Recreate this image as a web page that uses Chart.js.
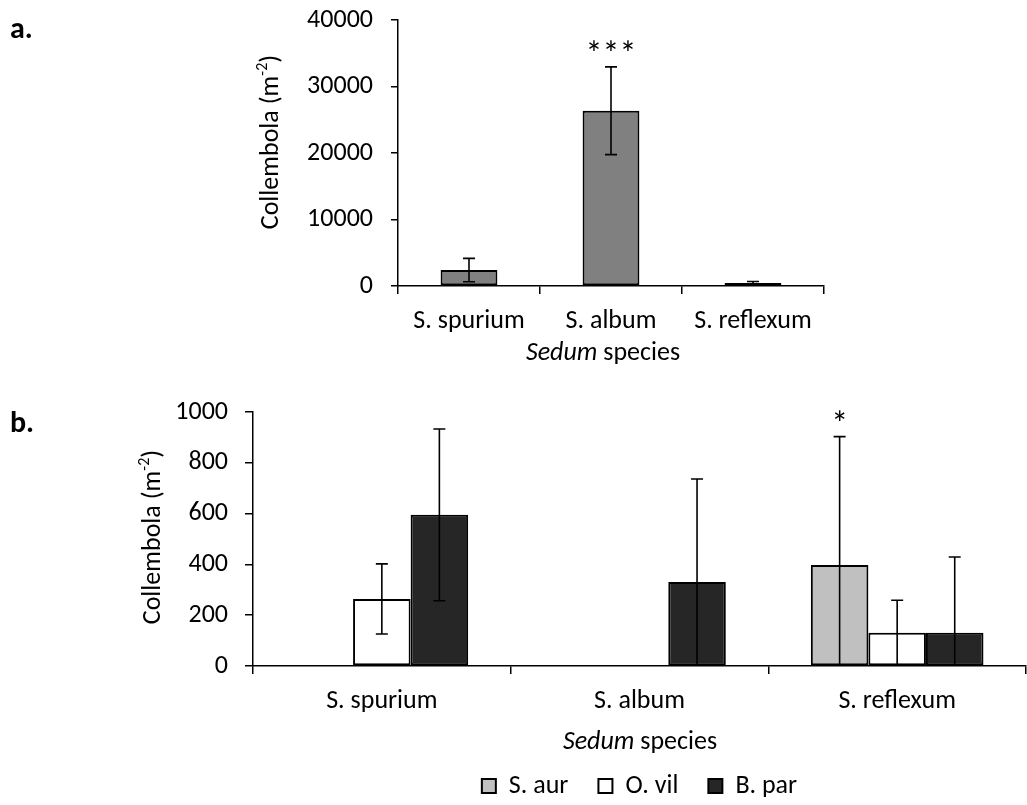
<!DOCTYPE html>
<html lang="en">
<head>
<meta charset="UTF-8" />
<title>Collembola density under Sedum species</title>
<script src="https://cdn.jsdelivr.net/npm/chart.js"></script>
<style>
  html, body { margin: 0; padding: 0; background: #fff; overflow: hidden; }
  .panel { position: absolute; left: 0; }
  #panelA { top: 0; }
  #panelB { top: 380px; }
</style>
</head>
<body>
<div class="panel" id="panelA"><canvas id="chartA" width="1027" height="380"></canvas></div>
<div class="panel" id="panelB"><canvas id="chartB" width="1027" height="430"></canvas></div>
<script>
const species = ['S. spurium', 'S. album', 'S. reflexum'];

// a. all Collembola per Sedum species (mean ± SE)
const totalMean = [2400, 26350, 450];
const totalErr = [1750, 6600, 220];
const totalStars = ['', '***', ''];
const totalTicks = [0, 10000, 20000, 30000, 40000];

// b. split by Collembola species
const groupNames = ['S. aur', 'O. vil', 'B. par'];
const aurMean = [0, 0, 398];
const aurErr = [0, 0, 505];
const vilMean = [264, 0, 131];
const vilErr = [138, 0, 128];
const parMean = [595, 331, 131];
const parErr = [338, 405, 298];
const aurStars = ['', '', '*'];
const groupTicks = [0, 200, 400, 600, 800, 1000];

const FONT = 'Carlito, Lato, "DejaVu Sans", sans-serif';
const FS = 26;

// error bars + significance stars, clipped at the x axis
const errorBars = {
  id: 'errorBars',
  afterDatasetsDraw(chart) {
    const { ctx, chartArea, scales: { y } } = chart;
    chart.data.datasets.forEach((ds, di) => {
      const meta = chart.getDatasetMeta(di);
      meta.data.forEach((bar, i) => {
        const err = ds.errors ? ds.errors[i] : 0;
        const v = ds.data[i];
        const top = y.getPixelForValue(v + err);
        if (err) {
          const bot = y.getPixelForValue(v - err);
          const x = bar.x;
          ctx.save();
          ctx.beginPath();
          ctx.rect(chartArea.left, 0, chartArea.right - chartArea.left, chartArea.bottom - 0.5);
          ctx.clip();
          ctx.strokeStyle = '#000';
          ctx.lineWidth = 1.6;
          ctx.beginPath();
          ctx.moveTo(x, top); ctx.lineTo(x, bot);
          ctx.moveTo(x - 6, top); ctx.lineTo(x + 6, top);
          ctx.moveTo(x - 6, bot); ctx.lineTo(x + 6, bot);
          ctx.stroke();
          ctx.restore();
        }
        const star = ds.stars ? ds.stars[i] : '';
        if (star) {
          ctx.save();
          ctx.fillStyle = '#000';
          ctx.font = `34px ${FONT}`;
          ctx.textAlign = 'center';
          ctx.textBaseline = 'alphabetic';
          ctx.fillText(star, bar.x, top - 2);
          ctx.restore();
        }
      });
    });
  }
};

// axis titles and panel letter
const titles = {
  id: 'titles',
  afterDraw(chart, args, o) {
    const ctx = chart.ctx;
    ctx.save();
    ctx.fillStyle = '#000';

    ctx.font = `bold 30px ${FONT}`;
    ctx.textAlign = 'left';
    ctx.textBaseline = 'alphabetic';
    ctx.fillText(o.letter, 10, o.letterY);

    // y title, rotated, with superscript
    ctx.save();
    ctx.translate(o.yx, o.yy);
    ctx.rotate(-Math.PI / 2);
    ctx.textBaseline = 'middle';
    const main = 'Collembola (m', sup = '-2', close = ')';
    ctx.font = `${FS}px ${FONT}`;
    const w1 = ctx.measureText(main).width;
    const w3 = ctx.measureText(close).width;
    ctx.font = `16px ${FONT}`;
    const w2 = ctx.measureText(sup).width;
    let x = -(w1 + w2 + w3) / 2;
    ctx.font = `${FS}px ${FONT}`;
    ctx.fillText(main, x, 0); x += w1;
    ctx.font = `16px ${FONT}`;
    ctx.fillText(sup, x, -8); x += w2;
    ctx.font = `${FS}px ${FONT}`;
    ctx.fillText(close, x, 0);
    ctx.restore();

    // x title: italic genus + plain text
    ctx.textBaseline = 'middle';
    ctx.font = `italic ${FS}px ${FONT}`;
    const a = 'Sedum';
    const wa = ctx.measureText(a).width;
    ctx.font = `${FS}px ${FONT}`;
    const b = ' species';
    const wb = ctx.measureText(b).width;
    let tx = o.xx - (wa + wb) / 2;
    ctx.font = `italic ${FS}px ${FONT}`;
    ctx.fillText(a, tx, o.xy);
    ctx.font = `${FS}px ${FONT}`;
    ctx.fillText(b, tx + wa, o.xy);
    ctx.restore();
  }
};

function yAxis(ticks, width, pad, tickLen) {
  return {
    min: ticks[0],
    max: ticks[ticks.length - 1],
    afterBuildTicks: s => { s.ticks = ticks.map(v => ({ value: v })); },
    // fixed width; the layout padding already leaves room for the end labels
    afterFit: s => { s.width = width; s.paddingTop = 0; s.paddingBottom = 0; },
    border: { display: true, color: '#000', width: 1.5 },
    grid: { drawOnChartArea: false, drawTicks: true, tickLength: tickLen, color: '#000', lineWidth: 1.5 },
    ticks: { color: '#000', padding: pad, font: { family: FONT, size: FS }, callback: v => String(v) }
  };
}

function xAxis(height) {
  return {
    afterFit: s => { s.height = height; },
    border: { display: true, color: '#000', width: 1.5 },
    grid: { offset: true, drawOnChartArea: false, drawTicks: true, tickLength: 8, color: '#000', lineWidth: 1.5 },
    ticks: { color: '#000', padding: 12, maxRotation: 0, autoSkip: false, font: { family: FONT, size: FS } }
  };
}

new Chart(document.getElementById('chartA'), {
  type: 'bar',
  data: {
    labels: species,
    datasets: [{
      label: 'Collembola',
      data: totalMean,
      errors: totalErr,
      stars: totalStars,
      backgroundColor: '#808080',
      borderColor: '#000',
      borderWidth: 2,
      borderSkipped: false,
      categoryPercentage: 0.4,
      barPercentage: 1
    }]
  },
  options: {
    responsive: false,
    animation: false,
    layout: { padding: { left: 0, top: 20, right: 203, bottom: 0 } },
    plugins: {
      legend: { display: false },
      tooltip: { enabled: false },
      titles: { letter: 'a.', letterY: 38, yx: 271, yy: 142, xx: 603, xy: 353 }
    },
    scales: { x: xAxis(94), y: yAxis(totalTicks, 398, 18, 7) }
  },
  plugins: [errorBars, titles]
});

const groupColors = ['#c0c0c0', '#ffffff', '#262626'];
const groupData = [aurMean, vilMean, parMean];
const groupErrs = [aurErr, vilErr, parErr];
const groupStars = [aurStars, null, null];

new Chart(document.getElementById('chartB'), {
  type: 'bar',
  data: {
    labels: species,
    datasets: groupNames.map((name, i) => ({
      label: name,
      data: groupData[i],
      errors: groupErrs[i],
      stars: groupStars[i],
      backgroundColor: groupColors[i],
      borderColor: '#000',
      borderWidth: 2,
      borderSkipped: false,
      categoryPercentage: 0.67,
      barPercentage: 1
    }))
  },
  options: {
    responsive: false,
    animation: false,
    layout: { padding: { left: 0, top: 32, right: 1, bottom: 1 } },
    plugins: {
      legend: {
        position: 'bottom',
        fullSize: false,
        labels: { boxWidth: 14, boxHeight: 14, padding: 30, color: '#000', font: { family: FONT, size: FS } }
      },
      tooltip: { enabled: false },
      titles: { letter: 'b.', letterY: 52, yx: 153, yy: 157, xx: 640, xy: 362 }
    },
    scales: { x: xAxis(77), y: yAxis(groupTicks, 253, 17, 8) }
  },
  plugins: [errorBars, titles]
});
</script>
</body>
</html>
